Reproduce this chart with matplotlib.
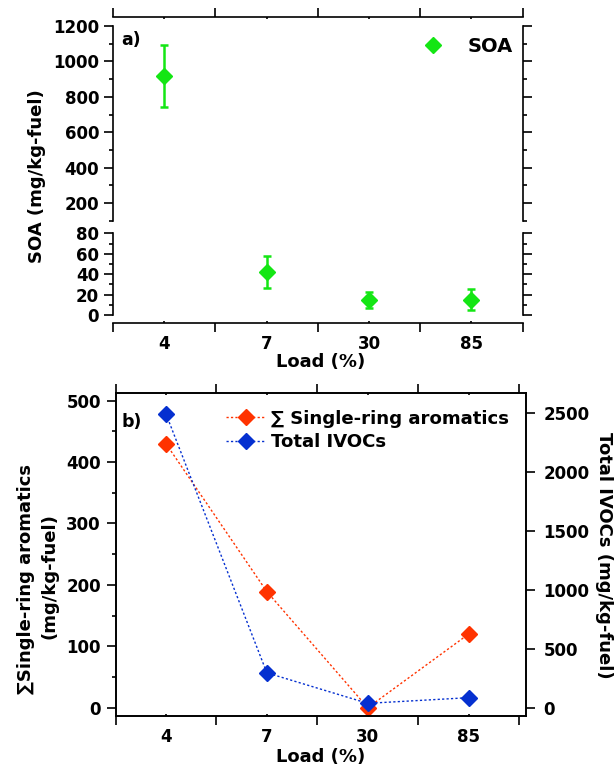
import numpy as np
import matplotlib
matplotlib.use('Agg')
import matplotlib.pyplot as plt
from matplotlib.ticker import MultipleLocator

plt.rcParams['font.family'] = ['DejaVu Sans']
plt.rcParams['font.weight'] = 'bold'

# data
loads = ['4', '7', '30', '85']
soa = [920, 42, 15, 15]
soa_err = [175, 15.5, 8, 10]
aromatics = [430, 189, 0, 120]
ivocs = [2490, 300, 42, 90]

W, H = 616, 767
green = '#14e614'
red = '#ff3300'
blue = '#0530d0'

fig = plt.figure(figsize=(W / 100, H / 100), dpi=100)


def px_axes(left, top, right, bottom):
    # axes placed by pixel edges of the original picture
    return fig.add_axes([left / W, 1 - bottom / H, (right - left) / W, (bottom - top) / H])


def fig_text(x, y, s, **kw):
    fig.text(x / W, 1 - y / H, s, **kw)


def style_x(ax, where):
    ax.set_xticks(np.arange(-0.5, 4, 1.0))
    ax.set_xticks(range(len(loads)), minor=True)
    ax.tick_params(axis='x', which='major', direction='out', length=6.5, width=1.2)
    ax.tick_params(axis='x', which='minor', direction='in', length=1.5, width=1.2, pad=9)
    if where == 'top':
        ax.tick_params(axis='x', which='both', bottom=False, top=True,
                       labelbottom=False, labeltop=False)
    elif where == 'bottom':
        ax.tick_params(axis='x', which='both', bottom=True, top=False,
                       labelbottom=True, labeltop=False)
        ax.set_xticklabels([''] * 5)
        ax.set_xticklabels(loads, minor=True, fontsize=12, fontweight='bold')
    else:
        ax.tick_params(axis='x', which='both', bottom=True, top=True,
                       labelbottom=True, labeltop=False)
        ax.set_xticklabels([''] * 5)
        ax.set_xticklabels(loads, minor=True, fontsize=12, fontweight='bold')


# ---------------- panel a (broken y axis) ----------------
x = np.arange(len(loads))
ax_hi = px_axes(113, 26, 522.7, 220.7)
ax_lo = px_axes(113, 233.3, 522.7, 315)

for ax in (ax_hi, ax_lo):
    ax.errorbar(x, soa, yerr=soa_err, fmt='none', ecolor=green, elinewidth=1.8,
                capsize=2.6, capthick=1.8)
    pts, = ax.plot(x, soa, ls='none', marker='D', color=green, ms=8.3, mec=green,
                   label='SOA')
    ax.set_xlim(-0.5, 3.5)
    for s in ax.spines.values():
        s.set_linewidth(1.2)
    ax.tick_params(axis='y', which='both', direction='out', left=True, right=True,
                   labelleft=True, labelright=False, width=1.2, labelsize=12, pad=3.5)
    ax.tick_params(axis='y', which='major', length=6.5)
    ax.tick_params(axis='y', which='minor', length=3)

ax_hi.set_ylim(100, 1200)
ax_hi.set_yticks(range(200, 1201, 200))
ax_hi.yaxis.set_minor_locator(MultipleLocator(100))
ax_hi.spines['bottom'].set_visible(False)
ax_hi.spines['top'].set_position(('outward', 6.7))
style_x(ax_hi, 'top')

ax_lo.set_ylim(0, 80)
ax_lo.set_yticks(range(0, 81, 20))
ax_lo.yaxis.set_minor_locator(MultipleLocator(10))
ax_lo.spines['top'].set_visible(False)
ax_lo.spines['bottom'].set_position(('outward', 5.5))
style_x(ax_lo, 'bottom')

for lab in ax_hi.get_yticklabels() + ax_lo.get_yticklabels():
    lab.set_fontweight('bold')

ax_hi.legend(loc='center left', bbox_to_anchor=(423.3 / W, 1 - 46.7 / H),
             bbox_transform=fig.transFigure, frameon=False, borderpad=0,
             borderaxespad=0, handlelength=1.0, handletextpad=1.3, numpoints=1,
             prop={'size': 14, 'weight': 'bold'})

fig_text(131, 40, 'a)', fontsize=12.5, fontweight='bold', ha='center', va='center')
fig_text(37, 176, 'SOA (mg/kg-fuel)', rotation=90, fontsize=13, fontweight='bold',
         ha='center', va='center')
fig_text(321, 362, 'Load (%)', fontsize=13, fontweight='bold', ha='center', va='center')

# ---------------- panel b (twin axes) ----------------
ax_b = px_axes(115.5, 392.7, 526, 716)
ax_r = ax_b.twinx()

l1, = ax_b.plot(x, aromatics, ls=(0, (1.6, 1.6)), lw=1, color=red, marker='D', ms=8.3,
                mec=red, label='\u2211 Single-ring aromatics', clip_on=False)
l2, = ax_r.plot(x, ivocs, ls=(0, (1.6, 1.6)), lw=1, color=blue, marker='D', ms=8.3,
                mec=blue, label='Total IVOCs', clip_on=False)

ax_b.set_xlim(-0.5, 3.568)
ax_b.set_ylim(-13.5, 513)
ax_b.set_yticks(range(0, 501, 100))
ax_b.yaxis.set_minor_locator(MultipleLocator(50))
ax_r.set_ylim(-65, 2669)
ax_r.set_yticks(range(0, 2501, 500))

for ax in (ax_b, ax_r):
    for s in ax.spines.values():
        s.set_linewidth(1.2)
style_x(ax_b, 'both')
ax_b.tick_params(axis='y', which='both', direction='out', width=1.2, labelsize=12, pad=4)
ax_b.tick_params(axis='y', which='major', length=6.5)
ax_b.tick_params(axis='y', which='minor', length=3)
ax_r.tick_params(axis='y', which='major', direction='out', width=1.2, length=6.5,
                 labelsize=12, pad=6)
for lab in ax_b.get_yticklabels() + ax_r.get_yticklabels():
    lab.set_fontweight('bold')

ax_r.legend(handles=[l1, l2], loc='center left',
            bbox_to_anchor=(226 / W, 1 - 430.5 / H), bbox_transform=fig.transFigure,
            frameon=False, borderpad=0, borderaxespad=0, handlelength=2.2,
            handletextpad=0.3, labelspacing=0.3, numpoints=1,
            prop={'size': 13.1, 'weight': 'bold'})

fig_text(132, 421.7, 'b)', fontsize=12.5, fontweight='bold', ha='center', va='center')
fig_text(26, 579, '\u2211Single-ring aromatics', rotation=90, fontsize=13,
         fontweight='bold', ha='center', va='center')
fig_text(50, 576, '(mg/kg-fuel)', rotation=90, fontsize=13, fontweight='bold',
         ha='center', va='center')
fig_text(604, 555, 'Total IVOCs (mg/kg-fuel)', rotation=270, fontsize=13,
         fontweight='bold', ha='center', va='center')
fig_text(321, 757, 'Load (%)', fontsize=13, fontweight='bold', ha='center', va='center')

fig.savefig('out.png', dpi=100)
